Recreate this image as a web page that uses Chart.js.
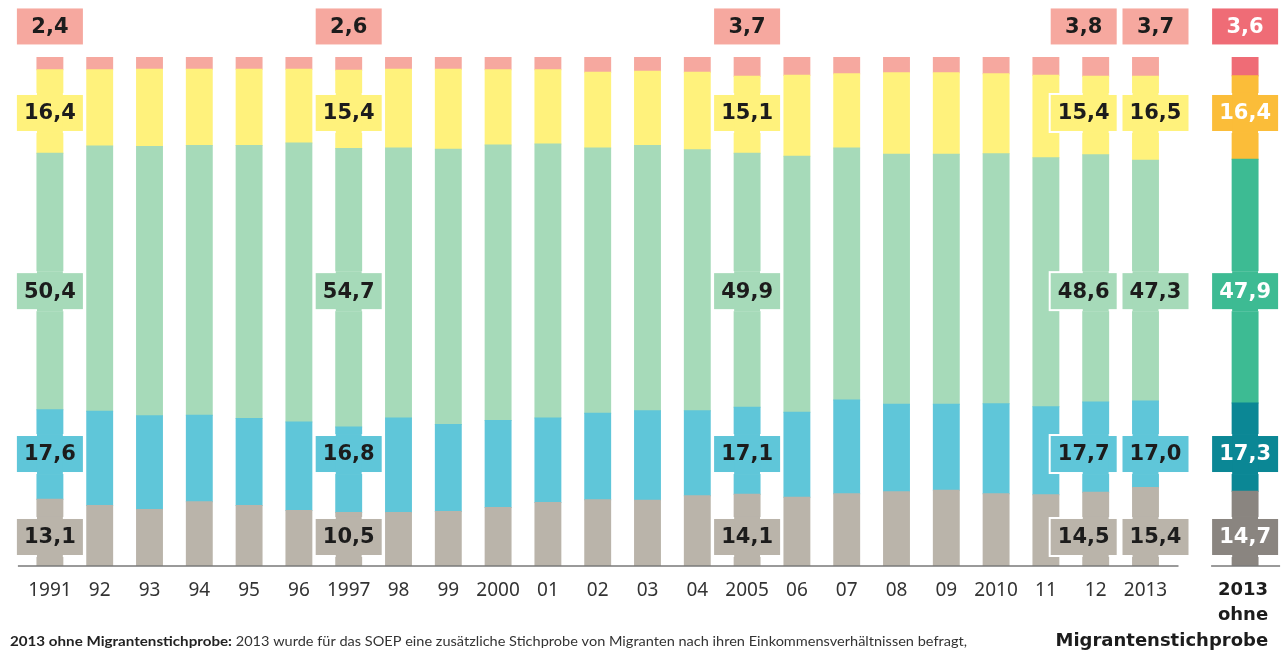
<!DOCTYPE html>
<html lang="de">
<head>
<meta charset="utf-8">
<title>Einkommensgruppen 1991-2013</title>
<script src="https://cdn.jsdelivr.net/npm/chart.js@4.4.1/dist/chart.umd.min.js"></script>
<style>
  html, body { margin: 0; padding: 0; background: #fff; }
  #wrap { position: relative; width: 1285px; height: 650px; }
</style>
</head>
<body>
<div id="wrap"><canvas id="chart"></canvas></div>
<script>
// Jahre, eine Leerstelle, dann der Sonderbalken
const years = ['1991', '92', '93', '94', '95', '96', '1997', '98', '99', '2000', '01', '02', '03', '04',
  '2005', '06', '07', '08', '09', '2010', '11', '12', '2013', '', '2013 ohne Migrantenstichprobe'];

// Anteile in Prozent, von unten nach oben
const grau = [13.1, 11.9, 11.1, 12.6, 11.9, 10.9, 10.5, 10.5, 10.7, 11.5, 12.5, 13.0, 12.9, 13.8,
  14.1, 13.5, 14.2, 14.6, 14.9, 14.2, 14.0, 14.5, 15.4, null, 14.7];
const blau = [17.6, 18.5, 18.4, 17.0, 17.1, 17.4, 16.8, 18.6, 17.1, 17.1, 16.6, 17.0, 17.6, 16.7,
  17.1, 16.7, 18.4, 17.2, 16.9, 17.7, 17.3, 17.7, 17.0, null, 17.3];
const gruen = [50.4, 52.1, 52.9, 53.0, 53.6, 54.8, 54.7, 53.0, 54.1, 54.1, 53.8, 52.1, 52.1, 51.3,
  49.9, 50.3, 49.5, 49.1, 49.1, 49.1, 48.9, 48.6, 47.3, null, 47.9];
const gelb = [16.4, 15.0, 15.2, 15.0, 15.0, 14.5, 15.4, 15.5, 15.7, 14.8, 14.6, 14.9, 14.6, 15.2,
  15.1, 15.9, 14.6, 16.0, 16.0, 15.7, 16.2, 15.4, 16.5, null, 16.4];
const rosa = [2.4, 2.5, 2.5, 2.5, 2.5, 2.5, 2.6, 2.5, 2.5, 2.5, 2.5, 3.0, 2.8, 3.0,
  3.7, 3.7, 3.3, 3.2, 3.2, 3.4, 3.6, 3.8, 3.7, null, 3.6];

// Balken mit Beschriftung
const labelled = [0, 6, 14, 21, 22, 24];
const special = 24;

function colors(normal, dark) {
  return years.map((y, i) => i === special ? dark : normal);
}

function fmt(v) {
  return v.toFixed(1).replace('.', ',');
}

const valueBoxes = {
  id: 'valueBoxes',
  afterDatasetsDraw(chart, args, opts) {
    const ctx = chart.ctx;
    const xs = chart.scales.x, ys = chart.scales.y;
    ctx.save();
    ctx.font = 'bold 21px "DejaVu Sans"';
    ctx.textAlign = 'center';
    ctx.textBaseline = 'middle';
    labelled.forEach(idx => {
      chart.data.datasets.forEach((ds, di) => {
        const bar = chart.getDatasetMeta(di).data[idx];
        const cx = xs.getPixelForValue(idx) + (opts.shift[idx] || 0);
        const cy = ys.getPixelForValue(opts.rows[di]);
        const col = ds.backgroundColor[idx];
        const w = 66, h = 36;
        // weisser Rand, nur sichtbar wo die Box fremde Balken ueberdeckt
        ctx.fillStyle = '#fff';
        ctx.fillRect(cx - w / 2 - 2, cy - h / 2 - 2, w + 4, h + 4);
        ctx.fillStyle = col;
        ctx.fillRect(cx - w / 2, cy - h / 2, w, h);
        if (di < 4) {
          ctx.fillRect(bar.x - bar.width / 2, cy - h / 2 - 2, bar.width, h + 4);
        }
        ctx.fillStyle = idx === special ? '#fff' : '#1c1c1c';
        ctx.fillText(fmt(ds.data[idx]), cx, cy + 1);
      });
    });
    ctx.restore();
  }
};

const extras = {
  id: 'extras',
  afterDraw(chart) {
    const ctx = chart.ctx;
    const xs = chart.scales.x;
    const base = chart.chartArea.bottom;
    ctx.save();
    // Grundlinien
    ctx.strokeStyle = '#7a7a7a';
    ctx.lineWidth = 1.5;
    ctx.beginPath();
    ctx.moveTo(xs.getPixelForValue(0) - 32, base);
    ctx.lineTo(xs.getPixelForValue(22) + 33, base);
    ctx.moveTo(xs.getPixelForValue(special) - 34, base);
    ctx.lineTo(xs.getPixelForValue(special) + 35, base);
    ctx.stroke();

    // Beschriftung des Sonderbalkens
    ctx.fillStyle = '#1c1c1c';
    ctx.font = 'bold 18px "DejaVu Sans"';
    ctx.textAlign = 'right';
    ctx.textBaseline = 'middle';
    const rx = xs.getPixelForValue(special) + 23;
    ['2013', 'ohne', 'Migrantenstichprobe'].forEach((t, i) => {
      ctx.fillText(t, rx, base + 24 + i * 25.5);
    });

    // Fussnote
    const boldPart = '2013 ohne Migrantenstichprobe:';
    const restPart = ' 2013 wurde für das SOEP eine zusätzliche Stichprobe von Migranten nach ihren Einkommensverhältnissen befragt,';
    ctx.textAlign = 'left';
    ctx.textBaseline = 'alphabetic';
    ctx.font = 'bold 14px Lato';
    const wb = ctx.measureText(boldPart).width;
    ctx.font = '14px Lato';
    const wr = ctx.measureText(restPart).width;
    ctx.translate(10, 646);
    ctx.scale(222 / wb, 1);
    ctx.font = 'bold 14px Lato';
    ctx.fillStyle = '#222';
    ctx.fillText(boldPart, 0, 0);
    ctx.setTransform(1, 0, 0, 1, 0, 0);
    ctx.translate(232, 646);
    ctx.scale(735 / wr, 1);
    ctx.font = '14px Lato';
    ctx.fillStyle = '#333';
    ctx.fillText(restPart, 0, 0);
    ctx.restore();
  }
};

new Chart(document.getElementById('chart'), {
  type: 'bar',
  data: {
    labels: years,
    datasets: [
      { label: 'grau', data: grau, backgroundColor: colors('#bab4aa', '#8a8580') },
      { label: 'blau', data: blau, backgroundColor: colors('#5fc6d9', '#0b8795') },
      { label: 'grün', data: gruen, backgroundColor: colors('#a6dab9', '#3dbb93') },
      { label: 'gelb', data: gelb, backgroundColor: colors('#fff27c', '#fbbd39') },
      { label: 'rosa', data: rosa, backgroundColor: colors('#f6a89f', '#ef6c76') }
    ]
  },
  options: {
    responsive: true,
    maintainAspectRatio: false,
    animation: false,
    layout: { padding: { left: 25, right: 15, top: 57, bottom: 0 } },
    datasets: { bar: { categoryPercentage: 1, barPercentage: 0.52, borderWidth: 0, inflateAmount: 0.5 } },
    scales: {
      x: {
        stacked: true,
        grid: { display: false },
        border: { display: false },
        afterFit: s => { s.height = 84; },
        ticks: {
          autoSkip: false,
          maxRotation: 0,
          padding: 5,
          color: '#333',
          font: { family: 'Noto Sans', size: 19 },
          callback: (v, i) => i <= 22 ? years[i] : ''
        }
      },
      y: { stacked: true, display: false, min: 0, max: 100 }
    },
    plugins: {
      legend: { display: false },
      tooltip: { enabled: false },
      valueBoxes: {
        rows: [5.7, 22, 54, 89, 106],
        shift: { 21: -12, 22: 10 }
      }
    }
  },
  plugins: [valueBoxes, extras]
});
</script>
</body>
</html>
